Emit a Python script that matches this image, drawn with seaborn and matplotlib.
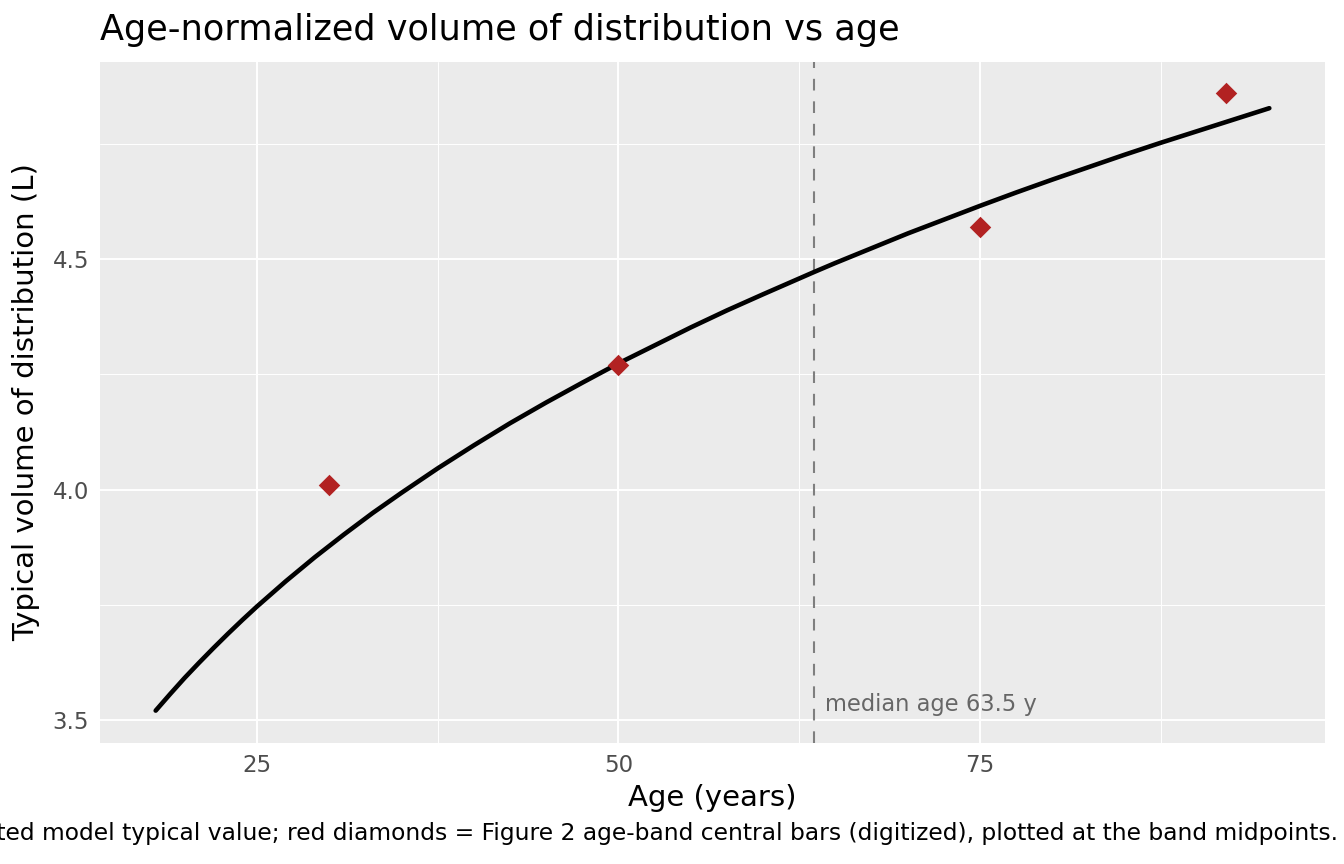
import numpy as np
import pandas as pd
import matplotlib
matplotlib.use('Agg')
import matplotlib.pyplot as plt
import seaborn as sns
from matplotlib.ticker import MultipleLocator

# model typical value curve
curve_age = [18, 19, 20, 21, 22, 23, 24, 25, 27, 29, 31, 33, 35, 37.5, 40, 42.5, 45,
             47.5, 50, 52.5, 55, 57.5, 60, 63.5, 65, 67.5, 70, 72.5, 75, 77.5, 80,
             82.5, 85, 87.5, 90, 92.5, 95]
curve_vd = [3.520, 3.556, 3.591, 3.624, 3.656, 3.687, 3.717, 3.746, 3.801, 3.853,
            3.902, 3.949, 3.993, 4.046, 4.096, 4.144, 4.189, 4.232, 4.274, 4.313,
            4.352, 4.389, 4.424, 4.472, 4.492, 4.524, 4.556, 4.586, 4.616, 4.645,
            4.673, 4.700, 4.727, 4.753, 4.778, 4.803, 4.828]

# figure 2 age-band central bars, at band midpoints
band_age = [30, 50, 75, 92]
band_vd = [4.01, 4.27, 4.57, 4.86]

median_age = 63.5

curve = pd.DataFrame({'age': curve_age, 'vd': curve_vd})
bands = pd.DataFrame({'age': band_age, 'vd': band_vd})

sns.set_theme(style='darkgrid', rc={
    'axes.facecolor': '#EBEBEB',
    'grid.color': 'white',
    'axes.edgecolor': '#EBEBEB',
})
plt.rcParams['font.family'] = ['DejaVu Sans']

fig = plt.figure(figsize=(13.44, 8.64), dpi=100)
ax = fig.add_axes([100 / 1344, 1 - 743 / 864, 1225 / 1344, 681 / 864])

sns.lineplot(data=curve, x='age', y='vd', color='black', linewidth=3.3, ax=ax, zorder=3)
sns.scatterplot(data=bands, x='age', y='vd', color='#B22222', marker='D', s=120,
                linewidth=0, ax=ax, zorder=4)
ax.axvline(median_age, color='#7F7F7F', linewidth=1.5, linestyle=(0, (5.6, 5.2)), zorder=2)
ax.text(median_age + 0.75, 3.533, 'median age 63.5 y', color='#666666', fontsize=16.3,
        ha='left', va='center')

ax.set_xlim(14.15, 98.85)
ax.set_ylim(3.4497, 4.9283)
ax.set_xticks([25, 50, 75])
ax.set_yticks([3.5, 4.0, 4.5])
ax.set_yticklabels(['3.5', '4.0', '4.5'])
ax.xaxis.set_minor_locator(MultipleLocator(12.5))
ax.yaxis.set_minor_locator(MultipleLocator(0.25))
ax.grid(which='major', color='white', linewidth=1.4)
ax.grid(which='minor', color='white', linewidth=0.7)
ax.tick_params(which='major', length=5, width=1.1, color='#333333',
               labelsize=16.5, labelcolor='#4D4D4D', pad=3)
ax.tick_params(which='minor', length=0)
for s in ax.spines.values():
    s.set_visible(False)

ax.set_xlabel('Age (years)', fontsize=21, color='black', labelpad=5)
ax.set_ylabel('Typical volume of distribution (L)', fontsize=21, color='black', labelpad=9)

fig.text(100 / 1344, 1 - 40 / 864, 'Age-normalized volume of distribution vs age',
         fontsize=25.3, color='black', ha='left', va='baseline')
fig.text(1338 / 1344, 1 - 840 / 864,
         'Black line = fitted model typical value; red diamonds = Figure 2 age-band central bars (digitized), plotted at the band midpoints.',
         fontsize=16.8, color='black', ha='right', va='baseline')

fig.savefig('out.png', dpi=100)
